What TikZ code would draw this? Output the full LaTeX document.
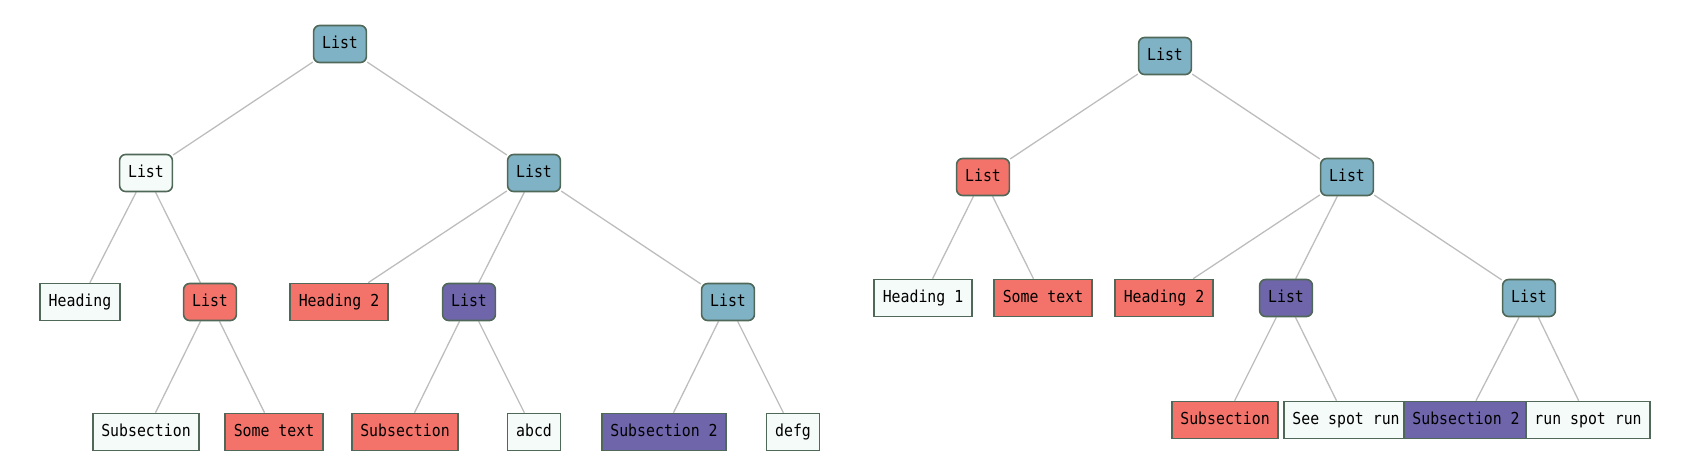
\documentclass[tikz,border=0pt]{standalone}
\usepackage{fontspec}
\newfontfamily\monof[FakeStretch=0.9]{DejaVu Sans Mono}
\usetikzlibrary{backgrounds}
\definecolor{cblue}{HTML}{7FB2C4}
\definecolor{cred}{HTML}{F3736B}
\definecolor{cpurple}{HTML}{6F65AB}
\definecolor{cwhite}{HTML}{F5FBF8}
\definecolor{cborder}{HTML}{506858}
\definecolor{cline}{HTML}{BDBDBD}
\tikzset{
  base/.style={draw=cborder, line width=1.6pt, minimum height=37pt, inner xsep=8.5pt, inner ysep=0pt,
    text height=12pt, text depth=3.5pt, font=\monof\fontsize{16.5pt}{19pt}\selectfont, text=black},
  listn/.style={base, rounded corners=6pt},
  leaf/.style={base},
  fb/.style={fill=cblue},
  fr/.style={fill=cred},
  fp/.style={fill=cpurple},
  fw/.style={fill=cwhite},
  edge/.style={draw=cline, line width=1.3pt}
}
\begin{document}
\begin{tikzpicture}[x=1pt,y=-1pt]
\useasboundingbox (0,0) rectangle (1692,475);
% left tree
\node[listn,fb] (r1) at (340,44) {List};
\node[listn,fw] (a) at (146,173) {List};
\node[listn,fb] (b) at (534,173) {List};
\node[leaf,fw] (h1) at (80,302) {Heading};
\node[listn,fr] (c) at (210,302) {List};
\node[leaf,fr] (h2) at (339,302) {Heading 2};
\node[listn,fp] (d) at (469,302) {List};
\node[listn,fb] (e) at (728,302) {List};
\node[leaf,fw] (s1) at (146,432) {Subsection};
\node[leaf,fr] (t1) at (274,432) {Some text};
\node[leaf,fr] (s2) at (405,432) {Subsection};
\node[leaf,fw] (ab) at (534,432) {abcd};
\node[leaf,fp] (s3) at (664,432) {Subsection 2};
\node[leaf,fw] (de) at (793,432) {defg};
% right tree
\node[listn,fb] (r2) at (1165,56) {List};
\node[listn,fr] (f) at (983,177) {List};
\node[listn,fb] (g) at (1347,177) {List};
\node[leaf,fw] (rh1) at (923,298) {Heading 1};
\node[leaf,fr] (rt1) at (1043,298) {Some text};
\node[leaf,fr] (rh2) at (1164,298) {Heading 2};
\node[listn,fp] (h) at (1286,298) {List};
\node[listn,fb] (i) at (1529,298) {List};
\node[leaf,fr] (rs1) at (1225,420) {Subsection};
\node[leaf,fw] (rsp) at (1346,420) {See spot run};
\node[leaf,fp] (rs2) at (1466,420) {Subsection 2};
\node[leaf,fw] (rrp) at (1588,420) {run spot run};
\begin{scope}[on background layer]
\draw[edge] (r1) -- (a);
\draw[edge] (r1) -- (b);
\draw[edge] (a) -- (h1);
\draw[edge] (a) -- (c);
\draw[edge] (b) -- (h2);
\draw[edge] (b) -- (d);
\draw[edge] (b) -- (e);
\draw[edge] (c) -- (s1);
\draw[edge] (c) -- (t1);
\draw[edge] (d) -- (s2);
\draw[edge] (d) -- (ab);
\draw[edge] (e) -- (s3);
\draw[edge] (e) -- (de);
\draw[edge] (r2) -- (f);
\draw[edge] (r2) -- (g);
\draw[edge] (f) -- (rh1);
\draw[edge] (f) -- (rt1);
\draw[edge] (g) -- (rh2);
\draw[edge] (g) -- (h);
\draw[edge] (g) -- (i);
\draw[edge] (h) -- (rs1);
\draw[edge] (h) -- (rsp);
\draw[edge] (i) -- (rs2);
\draw[edge] (i) -- (rrp);
\end{scope}
\end{tikzpicture}
\end{document}
